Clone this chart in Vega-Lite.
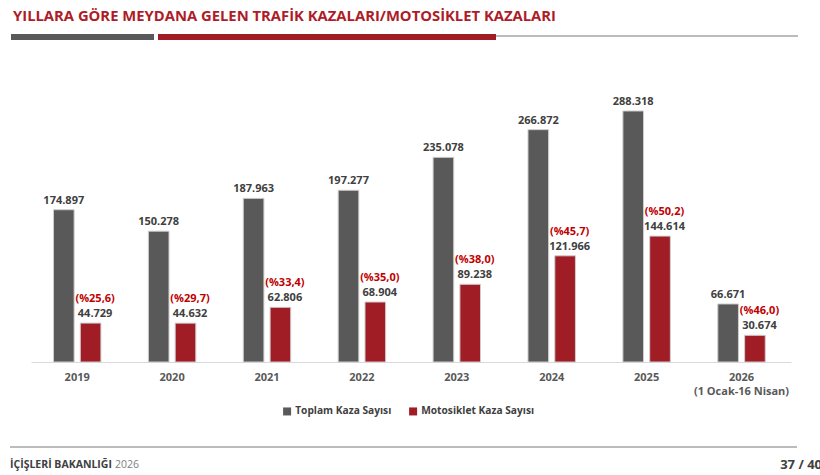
{
  "$schema": "https://vega.github.io/schema/vega-lite/v6.json",
  "background": "white",
  "padding": 0,
  "spacing": 0,
  "center": true,
  "resolve": {"legend": {"color": "independent"}},
  "config": {
    "view": {"stroke": null},
    "font": "Open Sans",
    "locale": {"number": {"decimal": ",", "thousands": ".", "grouping": [3], "currency": ["", ""]}}
  },
  "vconcat": [
    {
      "width": 820,
      "height": 40,
      "data": {"values": [{}]},
      "layer": [
        {
          "mark": {"type": "text", "text": "YILLARA GÖRE MEYDANA GELEN TRAFİK KAZALARI/MOTOSİKLET KAZALARI", "align": "left", "baseline": "middle", "font": "Open Sans", "fontSize": 14.8, "fontWeight": "bold", "color": "#ae1c28"},
          "encoding": {
            "x": {"datum": 12, "type": "quantitative", "scale": {"domain": [0, 820], "nice": false, "zero": false}, "axis": null},
            "y": {"datum": 17, "type": "quantitative", "scale": {"domain": [0, 40], "nice": false, "zero": false, "reverse": true}, "axis": null}
          }
        },
        {
          "mark": {"type": "bar", "color": "#595959"},
          "encoding": {
            "x": {"datum": 10, "type": "quantitative", "axis": null},
            "x2": {"datum": 153},
            "y": {"datum": 34, "type": "quantitative", "axis": null},
            "y2": {"datum": 40}
          }
        },
        {
          "mark": {"type": "bar", "color": "#a11d25"},
          "encoding": {
            "x": {"datum": 157, "type": "quantitative", "axis": null},
            "x2": {"datum": 495},
            "y": {"datum": 34, "type": "quantitative", "axis": null},
            "y2": {"datum": 40}
          }
        },
        {
          "mark": {"type": "rule", "color": "#a6a6a6", "strokeWidth": 1.3},
          "encoding": {
            "x": {"datum": 495, "type": "quantitative", "axis": null},
            "x2": {"datum": 797},
            "y": {"datum": 36, "type": "quantitative", "axis": null}
          }
        }
      ]
    },
    {
      "width": 760,
      "height": 322,
      "data": {
        "values": [
          {"year": "2019", "series": "Toplam Kaza Sayısı", "value": 174897, "pct": null},
          {"year": "2019", "series": "Motosiklet Kaza Sayısı", "value": 44729, "pct": 25.6},
          {"year": "2020", "series": "Toplam Kaza Sayısı", "value": 150278, "pct": null},
          {"year": "2020", "series": "Motosiklet Kaza Sayısı", "value": 44632, "pct": 29.7},
          {"year": "2021", "series": "Toplam Kaza Sayısı", "value": 187963, "pct": null},
          {"year": "2021", "series": "Motosiklet Kaza Sayısı", "value": 62806, "pct": 33.4},
          {"year": "2022", "series": "Toplam Kaza Sayısı", "value": 197277, "pct": null},
          {"year": "2022", "series": "Motosiklet Kaza Sayısı", "value": 68904, "pct": 35.0},
          {"year": "2023", "series": "Toplam Kaza Sayısı", "value": 235078, "pct": null},
          {"year": "2023", "series": "Motosiklet Kaza Sayısı", "value": 89238, "pct": 38.0},
          {"year": "2024", "series": "Toplam Kaza Sayısı", "value": 266872, "pct": null},
          {"year": "2024", "series": "Motosiklet Kaza Sayısı", "value": 121966, "pct": 45.7},
          {"year": "2025", "series": "Toplam Kaza Sayısı", "value": 288318, "pct": null},
          {"year": "2025", "series": "Motosiklet Kaza Sayısı", "value": 144614, "pct": 50.2},
          {"year": "2026", "series": "Toplam Kaza Sayısı", "value": 66671, "pct": null},
          {"year": "2026", "series": "Motosiklet Kaza Sayısı", "value": 30674, "pct": 46.0}
        ]
      },
      "encoding": {
        "x": {
          "field": "year",
          "type": "nominal",
          "scale": {"paddingInner": 0.5, "paddingOuter": 0.254, "align": 0.466},
          "axis": {
            "title": null,
            "labelAngle": 0,
            "ticks": false,
            "domainColor": "#d9d9d9",
            "domainWidth": 1.2,
            "labelPadding": 9,
            "labelFont": "Open Sans",
            "labelFontSize": 11,
            "labelFontWeight": "bold",
            "labelColor": "#595959",
            "labelLineHeight": 14.5,
            "labelExpr": "datum.value == '2026' ? ['2026', '(1 Ocak-16 Nisan)'] : datum.value"
          }
        },
        "xOffset": {
          "field": "series",
          "type": "nominal",
          "sort": ["Toplam Kaza Sayısı", "Motosiklet Kaza Sayısı"],
          "scale": {"paddingInner": 0.23, "paddingOuter": 0}
        },
        "y": {
          "field": "value",
          "type": "quantitative",
          "scale": {"domain": [0, 369850], "nice": false},
          "axis": null
        }
      },
      "layer": [
        {
          "mark": {"type": "bar", "stroke": "#cfcfcf", "strokeWidth": 1},
          "encoding": {
            "color": {
              "field": "series",
              "type": "nominal",
              "scale": {
                "domain": ["Toplam Kaza Sayısı", "Motosiklet Kaza Sayısı"],
                "range": ["#595959", "#a11d25"]
              },
              "legend": {
                "orient": "none",
                "legendX": 251,
                "legendY": 366,
                "direction": "horizontal",
                "title": null,
                "symbolType": "square",
                "symbolSize": 64,
                "symbolStrokeWidth": 0,
                "labelFont": "Open Sans",
                "labelFontSize": 10.2,
                "labelFontWeight": "bold",
                "labelColor": "#404040",
                "labelOffset": 3,
                "columnPadding": 16
              }
            }
          }
        },
        {
          "transform": [{"filter": "datum.pct == null"}],
          "mark": {"type": "text", "baseline": "alphabetic", "dy": -6, "font": "Open Sans", "fontSize": 11, "fontWeight": "bold", "color": "#404040"},
          "encoding": {
            "text": {"field": "value", "type": "quantitative", "format": ",d"}
          }
        },
        {
          "transform": [{"filter": "datum.pct != null"}],
          "mark": {"type": "text", "baseline": "alphabetic", "dy": -6, "dx": 4.5, "font": "Open Sans", "fontSize": 11, "fontWeight": "bold", "color": "#404040"},
          "encoding": {
            "text": {"field": "value", "type": "quantitative", "format": ",d"}
          }
        },
        {
          "transform": [
            {"filter": "datum.pct != null"},
            {"calculate": "'(%' + format(datum.pct, '.1f') + ')'", "as": "pct_label"}
          ],
          "mark": {"type": "text", "baseline": "alphabetic", "dy": -21, "dx": 4.5, "font": "Open Sans", "fontSize": 11, "fontWeight": "bold", "color": "#c00000"},
          "encoding": {
            "text": {"field": "pct_label", "type": "nominal"}
          }
        }
      ]
    },
    {
      "width": 820,
      "height": 60,
      "data": {"values": [{}]},
      "layer": [
        {
          "mark": {"type": "text", "text": "İÇİŞLERİ BAKANLIĞI", "align": "left", "baseline": "middle", "font": "Open Sans", "fontSize": 10.5, "fontWeight": "bold", "color": "#404040"},
          "encoding": {
            "x": {"datum": 10, "type": "quantitative", "scale": {"domain": [0, 820], "nice": false, "zero": false}, "axis": null},
            "y": {"datum": 48, "type": "quantitative", "scale": {"domain": [0, 60], "nice": false, "zero": false, "reverse": true}, "axis": null}
          }
        },
        {
          "mark": {"type": "text", "text": "2026", "align": "left", "baseline": "middle", "font": "Open Sans", "fontSize": 10.5, "color": "#808080"},
          "encoding": {
            "x": {"datum": 115, "type": "quantitative", "axis": null},
            "y": {"datum": 48, "type": "quantitative", "axis": null}
          }
        },
        {
          "mark": {"type": "text", "text": "37 / 40", "align": "right", "baseline": "middle", "font": "Open Sans", "fontSize": 13, "fontWeight": "bold", "color": "#404040"},
          "encoding": {
            "x": {"datum": 822, "type": "quantitative", "axis": null},
            "y": {"datum": 48, "type": "quantitative", "axis": null}
          }
        },
        {
          "mark": {"type": "rule", "color": "#a6a6a6", "strokeWidth": 1.5},
          "encoding": {
            "x": {"datum": 10, "type": "quantitative", "axis": null},
            "x2": {"datum": 797},
            "y": {"datum": 30, "type": "quantitative", "axis": null}
          }
        }
      ]
    }
  ]
}
